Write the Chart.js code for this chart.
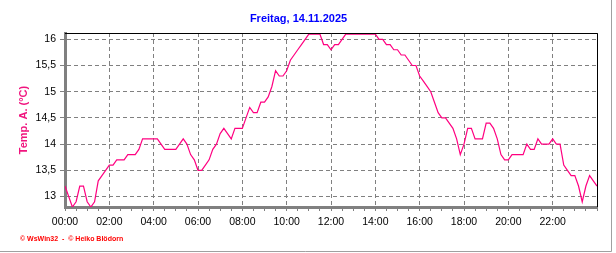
<!DOCTYPE html>
<html>
<head>
<meta charset="utf-8">
<script src="https://cdn.jsdelivr.net/npm/chart.js@4.4.1/dist/chart.umd.min.js"></script>
<style>
  html, body { margin: 0; padding: 0; background: #fff; }
  #wrap { position: relative; width: 616px; height: 253px; }
</style>
</head>
<body>
<div id="wrap"><canvas id="tempChart"></canvas></div>
<script>
// Temperatur (°C), alle 10 Minuten ab 00:00
const stepMinutes = 10;
const temps = [
    13.2, 13.0, 12.8, 12.9, 13.2, 13.2,
    12.9, 12.8, 12.9, 13.3, 13.4, 13.5,
    13.6, 13.6, 13.7, 13.7, 13.7, 13.8,
    13.8, 13.8, 13.9, 14.1, 14.1, 14.1,
    14.1, 14.1, 14.0, 13.9, 13.9, 13.9,
    13.9, 14.0, 14.1, 14.0, 13.8, 13.7,
    13.5, 13.5, 13.6, 13.7, 13.9, 14.0,
    14.2, 14.3, 14.2, 14.1, 14.3, 14.3,
    14.3, 14.5, 14.7, 14.6, 14.6, 14.8,
    14.8, 14.9, 15.1, 15.4, 15.3, 15.3,
    15.4, 15.6, 15.7, 15.8, 15.9, 16.0,
    16.1, 16.1, 16.1, 16.1, 15.9, 15.9,
    15.8, 15.9, 15.9, 16.0, 16.1, 16.1,
    16.1, 16.1, 16.1, 16.1, 16.1, 16.1,
    16.1, 16.0, 16.0, 15.9, 15.9, 15.8,
    15.8, 15.7, 15.7, 15.6, 15.5, 15.5,
    15.3, 15.2, 15.1, 15.0, 14.8, 14.6,
    14.5, 14.5, 14.4, 14.3, 14.1, 13.8,
    14.0, 14.3, 14.3, 14.1, 14.1, 14.1,
    14.4, 14.4, 14.3, 14.1, 13.8, 13.7,
    13.7, 13.8, 13.8, 13.8, 13.8, 14.0,
    13.9, 13.9, 14.1, 14.0, 14.0, 14.0,
    14.1, 14.0, 14.0, 13.6, 13.5, 13.4,
    13.4, 13.2, 12.9, 13.2, 13.4, 13.3,
    13.2
];

const yTicks = [13, 13.5, 14, 14.5, 15, 15.5, 16];
const hourLabels = ['00:00', '02:00', '04:00', '06:00', '08:00', '10:00',
                    '12:00', '14:00', '16:00', '18:00', '20:00', '22:00'];

const points = temps.map((t, i) => ({ x: i * stepMinutes, y: t }));

// Rahmen, Fusszeile
const framePlugin = {
    id: 'frame',
    beforeDraw(chart) {
        const ctx = chart.ctx;
        ctx.save();
        ctx.fillStyle = '#ffffff';
        ctx.fillRect(0, 0, chart.width, chart.height);
        ctx.restore();
    },
    afterDraw(chart) {
        const ctx = chart.ctx;
        const a = chart.chartArea;
        ctx.save();
        ctx.strokeStyle = '#000000';
        ctx.lineWidth = 1;
        ctx.beginPath();
        ctx.moveTo(a.left, a.top + 0.5);
        ctx.lineTo(a.right + 0.5, a.top + 0.5);
        ctx.lineTo(a.right + 0.5, a.bottom);
        ctx.stroke();

        ctx.strokeStyle = '#a0a0a0';
        ctx.beginPath();
        ctx.moveTo(611.5, 0);
        ctx.lineTo(611.5, 251.5);
        ctx.lineTo(0, 251.5);
        ctx.stroke();

        ctx.fillStyle = '#ff0000';
        ctx.font = 'bold 7px "Liberation Sans", Arial, sans-serif';
        ctx.textBaseline = 'middle';
        ctx.fillText('\u00a9 WsWin32  -  \u00a9 Heiko Blödorn', 20, 239);
        ctx.restore();
    }
};

const ctx = document.getElementById('tempChart').getContext('2d');
new Chart(ctx, {
    type: 'line',
    data: {
        datasets: [{
            label: 'Temp. A.',
            data: points,
            borderColor: '#ff0080',
            borderWidth: 1.2,
            pointRadius: 0,
            tension: 0,
            fill: false
        }]
    },
    options: {
        responsive: true,
        maintainAspectRatio: false,
        animation: false,
        layout: { padding: { left: 0, right: 19, top: 0, bottom: 0 } },
        plugins: {
            legend: { display: false },
            tooltip: { enabled: false },
            title: {
                display: true,
                text: 'Freitag, 14.11.2025',
                color: '#0000ff',
                font: { family: '"Liberation Sans", Arial, sans-serif', size: 11, weight: 'bold' },
                padding: { top: 12, bottom: 7.8 }
            }
        },
        scales: {
            x: {
                type: 'linear',
                min: 0,
                max: 1440,
                afterBuildTicks: scale => {
                    const ticks = [];
                    for (let m = 0; m <= 1440; m += 30) ticks.push({ value: m });
                    scale.ticks = ticks;
                },
                afterFit: scale => { scale.height = 46; },
                ticks: {
                    autoSkip: false,
                    maxRotation: 0,
                    padding: 4.5,
                    color: '#000000',
                    font: { family: '"Liberation Sans", Arial, sans-serif', size: 10.5 },
                    callback: value => (value % 120 === 0 && value < 1440) ? hourLabels[value / 120] : ''
                },
                grid: {
                    color: c => (c.tick && c.tick.value % 120 === 0) ? '#808080' : 'rgba(0,0,0,0)',
                    tickColor: '#808080',
                    tickLength: 4,
                    lineWidth: 1
                },
                border: { display: true, color: '#808080', width: 3, dash: [4, 3] }
            },
            y: {
                min: 12.8,
                max: 16.12,
                afterBuildTicks: scale => {
                    scale.ticks = yTicks.map(v => ({ value: v }));
                },
                afterFit: scale => { scale.width = 65; },
                ticks: {
                    padding: 4,
                    color: '#000000',
                    font: { family: '"Liberation Sans", Arial, sans-serif', size: 10.5 },
                    callback: value => String(value).replace('.', ',')
                },
                grid: {
                    color: '#808080',
                    tickColor: '#808080',
                    tickLength: 5,
                    lineWidth: 1
                },
                border: { display: true, color: '#808080', width: 3, dash: [4, 3] },
                title: {
                    display: true,
                    text: 'Temp. A. (°C)',
                    color: '#f0147e',
                    font: { family: '"Liberation Sans", Arial, sans-serif', size: 11, weight: 'bold' },
                    padding: { top: 17, bottom: 0 }
                }
            }
        }
    },
    plugins: [framePlugin]
});
</script>
</body>
</html>
